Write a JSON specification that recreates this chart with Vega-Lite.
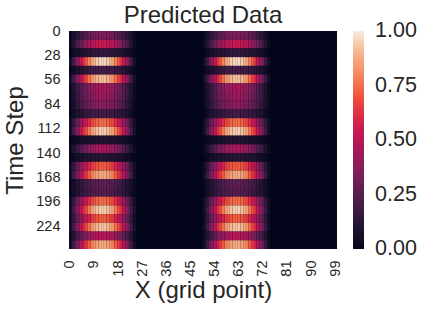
{"$schema":"https://vega.github.io/schema/vega-lite/v6.json","width":268,"height":218,"autosize":{"type":"none"},"padding":{"left":69,"top":31,"right":86,"bottom":60},"background":"white","view":{"fill":"#03051a","stroke":null},
"title":{"text":"Predicted Data","fontSize":24,"font":"Liberation Sans","fontWeight":"normal","color":"#262626","anchor":"middle","offset":-5},
"data":{"values":[
{"t":0,"t2":10,"0":0.02,"1":0.07,"2":0.11,"3":0.15,"4":0.19,"5":0.22,"6":0.26,"7":0.28,"8":0.31,"9":0.33,"10":0.34,"11":0.35,"12":0.35,"13":0.35,"14":0.34,"15":0.33,"16":0.31,"17":0.28,"18":0.26,"19":0.22,"20":0.19,"21":0.15,"22":0.11,"23":0.07,"24":0.02,"50":0.02,"51":0.07,"52":0.11,"53":0.15,"54":0.19,"55":0.22,"56":0.26,"57":0.28,"58":0.31,"59":0.33,"60":0.34,"61":0.35,"62":0.35,"63":0.35,"64":0.34,"65":0.33,"66":0.31,"67":0.28,"68":0.26,"69":0.22,"70":0.19,"71":0.15,"72":0.11,"73":0.07,"74":0.02},
{"t":10,"t2":20,"0":0.03,"1":0.1,"2":0.17,"3":0.24,"4":0.3,"5":0.35,"6":0.4,"7":0.45,"8":0.48,"9":0.51,"10":0.53,"11":0.54,"12":0.55,"13":0.54,"14":0.53,"15":0.51,"16":0.48,"17":0.45,"18":0.4,"19":0.35,"20":0.3,"21":0.24,"22":0.17,"23":0.1,"24":0.03,"50":0.03,"51":0.1,"52":0.17,"53":0.24,"54":0.3,"55":0.35,"56":0.4,"57":0.45,"58":0.48,"59":0.51,"60":0.53,"61":0.54,"62":0.55,"63":0.54,"64":0.53,"65":0.51,"66":0.48,"67":0.45,"68":0.4,"69":0.35,"70":0.3,"71":0.24,"72":0.17,"73":0.1,"74":0.03},
{"t":20,"t2":30,"0":0.01,"1":0.03,"2":0.05,"3":0.06,"4":0.08,"5":0.1,"6":0.11,"7":0.12,"8":0.13,"9":0.14,"10":0.15,"11":0.15,"12":0.15,"13":0.15,"14":0.15,"15":0.14,"16":0.13,"17":0.12,"18":0.11,"19":0.1,"20":0.08,"21":0.06,"22":0.05,"23":0.03,"24":0.01,"50":0.01,"51":0.03,"52":0.05,"53":0.06,"54":0.08,"55":0.1,"56":0.11,"57":0.12,"58":0.13,"59":0.14,"60":0.15,"61":0.15,"62":0.15,"63":0.15,"64":0.15,"65":0.14,"66":0.13,"67":0.12,"68":0.11,"69":0.1,"70":0.08,"71":0.06,"72":0.05,"73":0.03,"74":0.01},
{"t":30,"t2":40,"0":0.06,"1":0.18,"2":0.3,"3":0.42,"4":0.52,"5":0.62,"6":0.71,"7":0.79,"8":0.85,"9":0.9,"10":0.94,"11":0.96,"12":0.97,"13":0.96,"14":0.94,"15":0.9,"16":0.85,"17":0.79,"18":0.71,"19":0.62,"20":0.52,"21":0.42,"22":0.3,"23":0.18,"24":0.06,"50":0.06,"51":0.18,"52":0.3,"53":0.42,"54":0.52,"55":0.62,"56":0.71,"57":0.79,"58":0.85,"59":0.9,"60":0.94,"61":0.96,"62":0.97,"63":0.96,"64":0.94,"65":0.9,"66":0.85,"67":0.79,"68":0.71,"69":0.62,"70":0.52,"71":0.42,"72":0.3,"73":0.18,"74":0.06},
{"t":40,"t2":50,"0":0.01,"1":0.04,"2":0.06,"3":0.09,"4":0.11,"5":0.13,"6":0.15,"7":0.16,"8":0.18,"9":0.19,"10":0.19,"11":0.2,"12":0.2,"13":0.2,"14":0.19,"15":0.19,"16":0.18,"17":0.16,"18":0.15,"19":0.13,"20":0.11,"21":0.09,"22":0.06,"23":0.04,"24":0.01,"50":0.01,"51":0.04,"52":0.06,"53":0.09,"54":0.11,"55":0.13,"56":0.15,"57":0.16,"58":0.18,"59":0.19,"60":0.19,"61":0.2,"62":0.2,"63":0.2,"64":0.19,"65":0.19,"66":0.18,"67":0.16,"68":0.15,"69":0.13,"70":0.11,"71":0.09,"72":0.06,"73":0.04,"74":0.01},
{"t":50,"t2":60,"0":0.06,"1":0.17,"2":0.29,"3":0.4,"4":0.5,"5":0.59,"6":0.67,"7":0.75,"8":0.81,"9":0.86,"10":0.89,"11":0.91,"12":0.92,"13":0.91,"14":0.89,"15":0.86,"16":0.81,"17":0.75,"18":0.67,"19":0.59,"20":0.5,"21":0.4,"22":0.29,"23":0.17,"24":0.06,"50":0.06,"51":0.17,"52":0.29,"53":0.4,"54":0.5,"55":0.59,"56":0.67,"57":0.75,"58":0.81,"59":0.86,"60":0.89,"61":0.91,"62":0.92,"63":0.91,"64":0.89,"65":0.86,"66":0.81,"67":0.75,"68":0.67,"69":0.59,"70":0.5,"71":0.4,"72":0.29,"73":0.17,"74":0.06},
{"t":60,"t2":70,"0":0.03,"1":0.09,"2":0.14,"3":0.19,"4":0.24,"5":0.29,"6":0.33,"7":0.36,"8":0.4,"9":0.42,"10":0.44,"11":0.45,"12":0.45,"13":0.45,"14":0.44,"15":0.42,"16":0.4,"17":0.36,"18":0.33,"19":0.29,"20":0.24,"21":0.19,"22":0.14,"23":0.09,"24":0.03,"50":0.03,"51":0.09,"52":0.14,"53":0.19,"54":0.24,"55":0.29,"56":0.33,"57":0.36,"58":0.4,"59":0.42,"60":0.44,"61":0.45,"62":0.45,"63":0.45,"64":0.44,"65":0.42,"66":0.4,"67":0.36,"68":0.33,"69":0.29,"70":0.24,"71":0.19,"72":0.14,"73":0.09,"74":0.03},
{"t":70,"t2":80,"0":0.03,"1":0.08,"2":0.13,"3":0.18,"4":0.23,"5":0.27,"6":0.31,"7":0.34,"8":0.37,"9":0.39,"10":0.41,"11":0.42,"12":0.42,"13":0.42,"14":0.41,"15":0.39,"16":0.37,"17":0.34,"18":0.31,"19":0.27,"20":0.23,"21":0.18,"22":0.13,"23":0.08,"24":0.03,"50":0.03,"51":0.08,"52":0.13,"53":0.18,"54":0.23,"55":0.27,"56":0.31,"57":0.34,"58":0.37,"59":0.39,"60":0.41,"61":0.42,"62":0.42,"63":0.42,"64":0.41,"65":0.39,"66":0.37,"67":0.34,"68":0.31,"69":0.27,"70":0.23,"71":0.18,"72":0.13,"73":0.08,"74":0.03},
{"t":80,"t2":90,"0":0.02,"1":0.07,"2":0.12,"3":0.16,"4":0.21,"5":0.24,"6":0.28,"7":0.31,"8":0.33,"9":0.35,"10":0.37,"11":0.38,"12":0.38,"13":0.38,"14":0.37,"15":0.35,"16":0.33,"17":0.31,"18":0.28,"19":0.24,"20":0.21,"21":0.16,"22":0.12,"23":0.07,"24":0.02,"50":0.02,"51":0.07,"52":0.12,"53":0.16,"54":0.21,"55":0.24,"56":0.28,"57":0.31,"58":0.33,"59":0.35,"60":0.37,"61":0.38,"62":0.38,"63":0.38,"64":0.37,"65":0.35,"66":0.33,"67":0.31,"68":0.28,"69":0.24,"70":0.21,"71":0.16,"72":0.12,"73":0.07,"74":0.02},
{"t":90,"t2":100,"0":0.01,"1":0.04,"2":0.06,"3":0.09,"4":0.11,"5":0.13,"6":0.15,"7":0.16,"8":0.18,"9":0.19,"10":0.19,"11":0.2,"12":0.2,"13":0.2,"14":0.19,"15":0.19,"16":0.18,"17":0.16,"18":0.15,"19":0.13,"20":0.11,"21":0.09,"22":0.06,"23":0.04,"24":0.01,"50":0.01,"51":0.04,"52":0.06,"53":0.09,"54":0.11,"55":0.13,"56":0.15,"57":0.16,"58":0.18,"59":0.19,"60":0.19,"61":0.2,"62":0.2,"63":0.2,"64":0.19,"65":0.19,"66":0.18,"67":0.16,"68":0.15,"69":0.13,"70":0.11,"71":0.09,"72":0.06,"73":0.04,"74":0.01},
{"t":100,"t2":110,"0":0.05,"1":0.14,"2":0.23,"3":0.32,"4":0.41,"5":0.48,"6":0.55,"7":0.61,"8":0.66,"9":0.7,"10":0.73,"11":0.74,"12":0.75,"13":0.74,"14":0.73,"15":0.7,"16":0.66,"17":0.61,"18":0.55,"19":0.48,"20":0.41,"21":0.32,"22":0.23,"23":0.14,"24":0.05,"50":0.05,"51":0.14,"52":0.23,"53":0.32,"54":0.41,"55":0.48,"56":0.55,"57":0.61,"58":0.66,"59":0.7,"60":0.73,"61":0.74,"62":0.75,"63":0.74,"64":0.73,"65":0.7,"66":0.66,"67":0.61,"68":0.55,"69":0.48,"70":0.41,"71":0.32,"72":0.23,"73":0.14,"74":0.05},
{"t":110,"t2":120,"0":0.06,"1":0.18,"2":0.29,"3":0.41,"4":0.51,"5":0.61,"6":0.69,"7":0.77,"8":0.84,"9":0.88,"10":0.92,"11":0.94,"12":0.95,"13":0.94,"14":0.92,"15":0.88,"16":0.84,"17":0.77,"18":0.69,"19":0.61,"20":0.51,"21":0.41,"22":0.29,"23":0.18,"24":0.06,"50":0.06,"51":0.18,"52":0.29,"53":0.41,"54":0.51,"55":0.61,"56":0.69,"57":0.77,"58":0.84,"59":0.88,"60":0.92,"61":0.94,"62":0.95,"63":0.94,"64":0.92,"65":0.88,"66":0.84,"67":0.77,"68":0.69,"69":0.61,"70":0.51,"71":0.41,"72":0.29,"73":0.18,"74":0.06},
{"t":120,"t2":130,"0":0.01,"1":0.02,"2":0.03,"3":0.04,"4":0.05,"5":0.06,"6":0.07,"7":0.08,"8":0.09,"9":0.09,"10":0.1,"11":0.1,"12":0.1,"13":0.1,"14":0.1,"15":0.09,"16":0.09,"17":0.08,"18":0.07,"19":0.06,"20":0.05,"21":0.04,"22":0.03,"23":0.02,"24":0.01,"50":0.01,"51":0.02,"52":0.03,"53":0.04,"54":0.05,"55":0.06,"56":0.07,"57":0.08,"58":0.09,"59":0.09,"60":0.1,"61":0.1,"62":0.1,"63":0.1,"64":0.1,"65":0.09,"66":0.09,"67":0.08,"68":0.07,"69":0.06,"70":0.05,"71":0.04,"72":0.03,"73":0.02,"74":0.01},
{"t":130,"t2":140,"0":0.03,"1":0.09,"2":0.14,"3":0.19,"4":0.24,"5":0.29,"6":0.33,"7":0.36,"8":0.4,"9":0.42,"10":0.44,"11":0.45,"12":0.45,"13":0.45,"14":0.44,"15":0.42,"16":0.4,"17":0.36,"18":0.33,"19":0.29,"20":0.24,"21":0.19,"22":0.14,"23":0.09,"24":0.03,"50":0.03,"51":0.09,"52":0.14,"53":0.19,"54":0.24,"55":0.29,"56":0.33,"57":0.36,"58":0.4,"59":0.42,"60":0.44,"61":0.45,"62":0.45,"63":0.45,"64":0.44,"65":0.42,"66":0.4,"67":0.36,"68":0.33,"69":0.29,"70":0.24,"71":0.19,"72":0.14,"73":0.09,"74":0.03},
{"t":140,"t2":150,"0":0.01,"1":0.02,"2":0.04,"3":0.05,"4":0.06,"5":0.08,"6":0.09,"7":0.1,"8":0.11,"9":0.11,"10":0.12,"11":0.12,"12":0.12,"13":0.12,"14":0.12,"15":0.11,"16":0.11,"17":0.1,"18":0.09,"19":0.08,"20":0.06,"21":0.05,"22":0.04,"23":0.02,"24":0.01,"50":0.01,"51":0.02,"52":0.04,"53":0.05,"54":0.06,"55":0.08,"56":0.09,"57":0.1,"58":0.11,"59":0.11,"60":0.12,"61":0.12,"62":0.12,"63":0.12,"64":0.12,"65":0.11,"66":0.11,"67":0.1,"68":0.09,"69":0.08,"70":0.06,"71":0.05,"72":0.04,"73":0.02,"74":0.01},
{"t":150,"t2":160,"0":0.04,"1":0.14,"2":0.22,"3":0.31,"4":0.39,"5":0.46,"6":0.53,"7":0.58,"8":0.63,"9":0.67,"10":0.7,"11":0.71,"12":0.72,"13":0.71,"14":0.7,"15":0.67,"16":0.63,"17":0.58,"18":0.53,"19":0.46,"20":0.39,"21":0.31,"22":0.22,"23":0.14,"24":0.04,"50":0.04,"51":0.14,"52":0.22,"53":0.31,"54":0.39,"55":0.46,"56":0.53,"57":0.58,"58":0.63,"59":0.67,"60":0.7,"61":0.71,"62":0.72,"63":0.71,"64":0.7,"65":0.67,"66":0.63,"67":0.58,"68":0.53,"69":0.46,"70":0.39,"71":0.31,"72":0.22,"73":0.14,"74":0.04},
{"t":160,"t2":170,"0":0.05,"1":0.17,"2":0.27,"3":0.38,"4":0.48,"5":0.56,"6":0.64,"7":0.71,"8":0.77,"9":0.82,"10":0.85,"11":0.87,"12":0.88,"13":0.87,"14":0.85,"15":0.82,"16":0.77,"17":0.71,"18":0.64,"19":0.56,"20":0.48,"21":0.38,"22":0.27,"23":0.17,"24":0.05,"50":0.05,"51":0.17,"52":0.27,"53":0.38,"54":0.48,"55":0.56,"56":0.64,"57":0.71,"58":0.77,"59":0.82,"60":0.85,"61":0.87,"62":0.88,"63":0.87,"64":0.85,"65":0.82,"66":0.77,"67":0.71,"68":0.64,"69":0.56,"70":0.48,"71":0.38,"72":0.27,"73":0.17,"74":0.05},
{"t":170,"t2":180,"0":0.02,"1":0.05,"2":0.08,"3":0.12,"4":0.15,"5":0.17,"6":0.2,"7":0.22,"8":0.24,"9":0.25,"10":0.26,"11":0.27,"12":0.27,"13":0.27,"14":0.26,"15":0.25,"16":0.24,"17":0.22,"18":0.2,"19":0.17,"20":0.15,"21":0.12,"22":0.08,"23":0.05,"24":0.02,"50":0.02,"51":0.05,"52":0.08,"53":0.12,"54":0.15,"55":0.17,"56":0.2,"57":0.22,"58":0.24,"59":0.25,"60":0.26,"61":0.27,"62":0.27,"63":0.27,"64":0.26,"65":0.25,"66":0.24,"67":0.22,"68":0.2,"69":0.17,"70":0.15,"71":0.12,"72":0.08,"73":0.05,"74":0.02},
{"t":180,"t2":190,"0":0.02,"1":0.05,"2":0.08,"3":0.11,"4":0.14,"5":0.16,"6":0.18,"7":0.2,"8":0.22,"9":0.23,"10":0.24,"11":0.25,"12":0.25,"13":0.25,"14":0.24,"15":0.23,"16":0.22,"17":0.2,"18":0.18,"19":0.16,"20":0.14,"21":0.11,"22":0.08,"23":0.05,"24":0.02,"50":0.02,"51":0.05,"52":0.08,"53":0.11,"54":0.14,"55":0.16,"56":0.18,"57":0.2,"58":0.22,"59":0.23,"60":0.24,"61":0.25,"62":0.25,"63":0.25,"64":0.24,"65":0.23,"66":0.22,"67":0.2,"68":0.18,"69":0.16,"70":0.14,"71":0.11,"72":0.08,"73":0.05,"74":0.02},
{"t":190,"t2":200,"0":0.05,"1":0.14,"2":0.23,"3":0.32,"4":0.41,"5":0.48,"6":0.55,"7":0.61,"8":0.66,"9":0.7,"10":0.73,"11":0.74,"12":0.75,"13":0.74,"14":0.73,"15":0.7,"16":0.66,"17":0.61,"18":0.55,"19":0.48,"20":0.41,"21":0.32,"22":0.23,"23":0.14,"24":0.05,"50":0.05,"51":0.14,"52":0.23,"53":0.32,"54":0.41,"55":0.48,"56":0.55,"57":0.61,"58":0.66,"59":0.7,"60":0.73,"61":0.74,"62":0.75,"63":0.74,"64":0.73,"65":0.7,"66":0.66,"67":0.61,"68":0.55,"69":0.48,"70":0.41,"71":0.32,"72":0.23,"73":0.14,"74":0.05},
{"t":200,"t2":210,"0":0.06,"1":0.18,"2":0.29,"3":0.41,"4":0.51,"5":0.61,"6":0.69,"7":0.77,"8":0.84,"9":0.88,"10":0.92,"11":0.94,"12":0.95,"13":0.94,"14":0.92,"15":0.88,"16":0.84,"17":0.77,"18":0.69,"19":0.61,"20":0.51,"21":0.41,"22":0.29,"23":0.18,"24":0.06,"50":0.06,"51":0.18,"52":0.29,"53":0.41,"54":0.51,"55":0.61,"56":0.69,"57":0.77,"58":0.84,"59":0.88,"60":0.92,"61":0.94,"62":0.95,"63":0.94,"64":0.92,"65":0.88,"66":0.84,"67":0.77,"68":0.69,"69":0.61,"70":0.51,"71":0.41,"72":0.29,"73":0.18,"74":0.06},
{"t":210,"t2":220,"0":0.04,"1":0.14,"2":0.22,"3":0.31,"4":0.39,"5":0.46,"6":0.53,"7":0.58,"8":0.63,"9":0.67,"10":0.7,"11":0.71,"12":0.72,"13":0.71,"14":0.7,"15":0.67,"16":0.63,"17":0.58,"18":0.53,"19":0.46,"20":0.39,"21":0.31,"22":0.22,"23":0.14,"24":0.04,"50":0.04,"51":0.14,"52":0.22,"53":0.31,"54":0.39,"55":0.46,"56":0.53,"57":0.58,"58":0.63,"59":0.67,"60":0.7,"61":0.71,"62":0.72,"63":0.71,"64":0.7,"65":0.67,"66":0.63,"67":0.58,"68":0.53,"69":0.46,"70":0.39,"71":0.31,"72":0.22,"73":0.14,"74":0.04},
{"t":220,"t2":230,"0":0.06,"1":0.18,"2":0.29,"3":0.4,"4":0.5,"5":0.6,"6":0.68,"7":0.75,"8":0.82,"9":0.86,"10":0.9,"11":0.92,"12":0.93,"13":0.92,"14":0.9,"15":0.86,"16":0.82,"17":0.75,"18":0.68,"19":0.6,"20":0.5,"21":0.4,"22":0.29,"23":0.18,"24":0.06,"50":0.06,"51":0.18,"52":0.29,"53":0.4,"54":0.5,"55":0.6,"56":0.68,"57":0.75,"58":0.82,"59":0.86,"60":0.9,"61":0.92,"62":0.93,"63":0.92,"64":0.9,"65":0.86,"66":0.82,"67":0.75,"68":0.68,"69":0.6,"70":0.5,"71":0.4,"72":0.29,"73":0.18,"74":0.06},
{"t":230,"t2":240,"0":0.03,"1":0.1,"2":0.16,"3":0.22,"4":0.27,"5":0.32,"6":0.37,"7":0.41,"8":0.44,"9":0.47,"10":0.49,"11":0.5,"12":0.5,"13":0.5,"14":0.49,"15":0.47,"16":0.44,"17":0.41,"18":0.37,"19":0.32,"20":0.27,"21":0.22,"22":0.16,"23":0.1,"24":0.03,"50":0.03,"51":0.1,"52":0.16,"53":0.22,"54":0.27,"55":0.32,"56":0.37,"57":0.41,"58":0.44,"59":0.47,"60":0.49,"61":0.5,"62":0.5,"63":0.5,"64":0.49,"65":0.47,"66":0.44,"67":0.41,"68":0.37,"69":0.32,"70":0.27,"71":0.22,"72":0.16,"73":0.1,"74":0.03},
{"t":240,"t2":250,"0":0.05,"1":0.17,"2":0.27,"3":0.38,"4":0.48,"5":0.56,"6":0.64,"7":0.71,"8":0.77,"9":0.82,"10":0.85,"11":0.87,"12":0.88,"13":0.87,"14":0.85,"15":0.82,"16":0.77,"17":0.71,"18":0.64,"19":0.56,"20":0.48,"21":0.38,"22":0.27,"23":0.17,"24":0.05,"50":0.05,"51":0.17,"52":0.27,"53":0.38,"54":0.48,"55":0.56,"56":0.64,"57":0.71,"58":0.77,"59":0.82,"60":0.85,"61":0.87,"62":0.88,"63":0.87,"64":0.85,"65":0.82,"66":0.77,"67":0.71,"68":0.64,"69":0.56,"70":0.48,"71":0.38,"72":0.27,"73":0.17,"74":0.05}
]},
"transform":[{"fold":["0","1","2","3","4","5","6","7","8","9","10","11","12","13","14","15","16","17","18","19","20","21","22","23","24","50","51","52","53","54","55","56","57","58","59","60","61","62","63","64","65","66","67","68","69","70","71","72","73","74"],"as":["column","value"]}],
"mark":{"type":"rect"},
"encoding":{
"x":{"field":"column","type":"ordinal","scale":{"domain":["0","1","2","3","4","5","6","7","8","9","10","11","12","13","14","15","16","17","18","19","20","21","22","23","24","25","26","27","28","29","30","31","32","33","34","35","36","37","38","39","40","41","42","43","44","45","46","47","48","49","50","51","52","53","54","55","56","57","58","59","60","61","62","63","64","65","66","67","68","69","70","71","72","73","74","75","76","77","78","79","80","81","82","83","84","85","86","87","88","89","90","91","92","93","94","95","96","97","98","99"],"paddingInner":0,"paddingOuter":0},
"axis":{"title":"X (grid point)","titleFontSize":24,"titleFont":"Liberation Sans","titleFontWeight":"normal","titleColor":"#262626","titlePadding":2,"values":["0","9","18","27","36","45","54","63","72","81","90","99"],"labelAngle":-90,"labelFontSize":14.5,"labelFont":"Liberation Sans","labelColor":"#262626","labelPadding":11,"ticks":false,"domain":false,"labelBaseline":"middle","labelAlign":"right"}},
"y":{"field":"t","type":"quantitative","scale":{"domain":[0,250],"reverse":true,"nice":false,"zero":false},
"axis":{"title":"Time Step","titleFontSize":24,"titleFont":"Liberation Sans","titleFontWeight":"normal","titleColor":"#262626","titlePadding":8,"values":[0,28,56,84,112,140,168,196,224],"labelFontSize":14.5,"labelFont":"Liberation Sans","labelColor":"#262626","labelPadding":9,"ticks":false,"domain":false,"grid":false}},
"y2":{"field":"t2"},
"color":{"field":"value","type":"quantitative","scale":{"domain":[0,0.1,0.2,0.3,0.4,0.5,0.6,0.7,0.8,0.9,1],"range":["#03051a","#221331","#451c47","#6a1f56","#921c5b","#b91657","#d92847","#f0513b","#f58860","#f6b48f","#faebdd"]},
"legend":{"title":null,"orient":"none","legendX":284,"legendY":0,"gradientLength":218,"gradientThickness":11,"gradientStrokeWidth":0,"values":[0,0.25,0.5,0.75,1],"format":".2f","labelFontSize":21.5,"labelFont":"Liberation Sans","labelColor":"#262626","labelOffset":11,"padding":0,"encode":{"labels":{"update":{"baseline":{"value":"middle"}}}}}}
}}
